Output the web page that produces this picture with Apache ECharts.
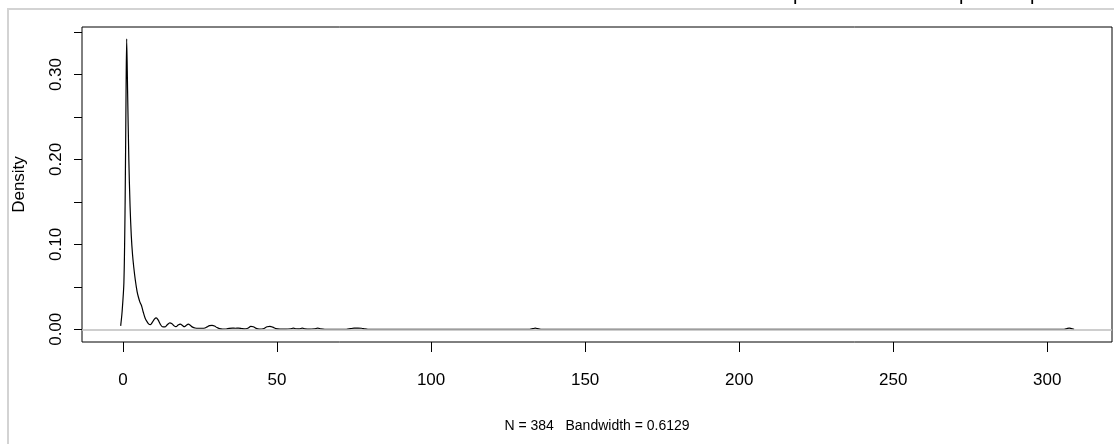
<!DOCTYPE html>
<html>
<head>
<meta charset="utf-8">
<script src="https://cdn.jsdelivr.net/npm/echarts@6/dist/echarts.min.js"></script>
<style>
html,body{margin:0;padding:0;background:#fff;}
#chart{width:1114px;height:444px;}
</style>
</head>
<body>
<div id="chart"></div>
<script>
// Density estimate points (x, density)
const densX = [-0.75,-0.3,0.3,0.7,1.0,1.2,1.5,1.9,2.3,2.7,3.1,3.5,4.0,4.6,5.0,5.5,6.0,6.6,7.2,7.8,8.4,8.9,9.5,10.2,10.8,11.4,12.1,12.8,13.6,14.3,15.2,15.9,16.6,17.2,17.9,18.6,19.3,19.9,20.5,21.2,21.9,22.6,23.4,24.5,25.6,26.6,27.3,28.1,28.9,29.7,30.5,31.3,32.3,33.5,34.5,35.5,36.5,37.5,38.5,39.5,40.5,41.5,42.3,43.2,44.3,45.5,46.8,47.7,48.6,49.6,51,53,54.4,55.3,56.2,57.2,58.2,59.1,60.5,62.2,63.2,64.2,65.5,72.5,73.8,75,76.3,77.4,78.5,79.5,132,133,133.8,134.6,135.6,305.5,306.4,307.1,307.8,308.7];
const densY = [0.004,0.02,0.055,0.15,0.28,0.342,0.28,0.2,0.145,0.11,0.088,0.073,0.058,0.044,0.038,0.032,0.028,0.02,0.013,0.009,0.006,0.0055,0.008,0.012,0.0135,0.011,0.006,0.003,0.0028,0.005,0.0075,0.0065,0.004,0.003,0.005,0.006,0.0045,0.003,0.0045,0.006,0.0045,0.0025,0.0015,0.0012,0.0012,0.0015,0.0028,0.0042,0.0045,0.0038,0.002,0.0008,0.0002,0.0003,0.0011,0.0013,0.0012,0.0013,0.0009,0.0004,0.0012,0.0033,0.003,0.001,0.0002,0.0006,0.003,0.0035,0.0025,0.0007,0.0001,0.0001,0.0006,0.0013,0.0006,0.0005,0.0013,0.0005,0.0001,0.0006,0.0013,0.0005,0,0,0.0007,0.0013,0.0014,0.0012,0.0004,0,0,0.0007,0.0013,0.0007,0,0,0.0008,0.0013,0.0008,0];
const xTicks = [0,50,100,150,200,250,300];
const yTicks = [0,0.05,0.10,0.15,0.20,0.25,0.30,0.35];
const yLabels = [0,0.10,0.20,0.30];
const xTitle = 'N = 384   Bandwidth = 0.6129';
const yTitle = 'Density';

const FONT = "'Liberation Sans', Arial, sans-serif";
const chart = echarts.init(document.getElementById('chart'), null, {renderer:'canvas'});
const pts = densX.map((x,i)=>[x,densY[i]]);

chart.setOption({
  animation:false,
  backgroundColor:'#fff',
  textStyle:{fontFamily:FONT},
  graphic:[
    {type:'rect', shape:{x:8,y:9,width:1200,height:500}, style:{fill:'none',stroke:'#d3d3d3',lineWidth:2}, silent:true, z:0},
    {type:'text', left:793, top:-16, style:{text:'p', font:'20px '+FONT, fill:'#000'}},
    {type:'text', left:959, top:-16, style:{text:'p', font:'20px '+FONT, fill:'#000'}},
    {type:'text', left:1030, top:-16, style:{text:'p', font:'20px '+FONT, fill:'#000'}}
  ],
  grid:{left:82, top:27, right:2, bottom:102, show:true, borderColor:'#000', borderWidth:1, backgroundColor:'transparent'},
  xAxis:{
    type:'value', min:-13.3, max:321,
    name:xTitle, nameLocation:'middle', nameGap:77,
    nameTextStyle:{fontSize:14, color:'#000', fontFamily:FONT},
    axisLine:{show:false, onZero:false},
    splitLine:{show:false},
    axisTick:{show:true, length:10, customValues:xTicks, lineStyle:{color:'#000'}},
    axisLabel:{customValues:xTicks, fontSize:17, color:'#000', margin:30, fontFamily:FONT}
  },
  yAxis:{
    type:'value', min:-0.015, max:0.356,
    name:yTitle, nameLocation:'middle', nameGap:54, nameRotate:90,
    nameTextStyle:{fontSize:17, color:'#000', fontFamily:FONT},
    axisLine:{show:false, onZero:false},
    splitLine:{show:false},
    axisTick:{show:true, length:8, customValues:yTicks, lineStyle:{color:'#000'}},
    axisLabel:{customValues:yLabels, rotate:90, align:'center', verticalAlign:'bottom', margin:17, fontSize:17, color:'#000', fontFamily:FONT,
      formatter:v=>Number(v).toFixed(2)}
  },
  series:[
    {type:'line', data:pts, showSymbol:false, smooth:0.3, z:2,
     lineStyle:{color:'#000', width:1.2}},
    {type:'line', data:[], z:5,
     markLine:{silent:true, symbol:['none','none'], label:{show:false},
       lineStyle:{color:'#bebebe', width:1.5, type:'solid'},
       data:[{yAxis:0}]}}
  ]
});
</script>
</body>
</html>
